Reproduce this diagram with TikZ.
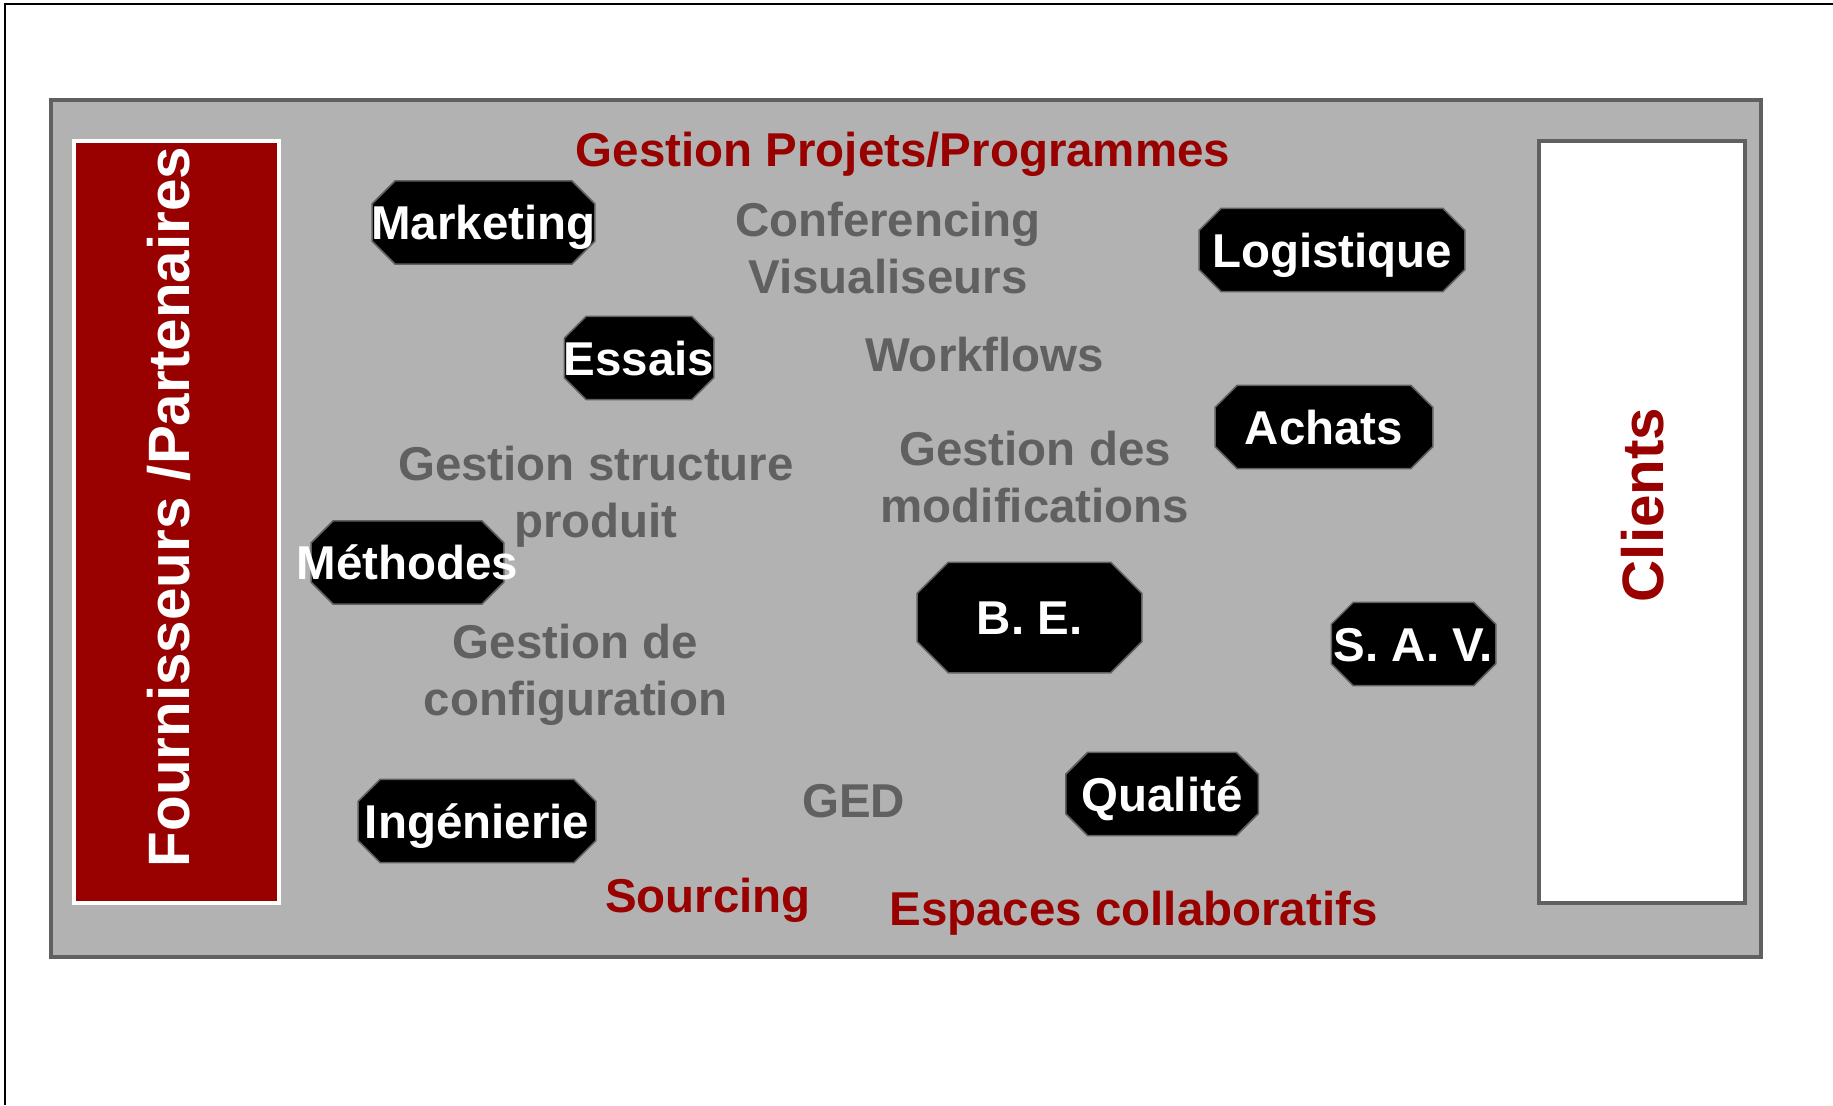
\documentclass[tikz,border=0pt]{standalone}
\usepackage{fontspec}
\setmainfont{Liberation Sans}
\usepackage{tikz}

\definecolor{pdmred}{HTML}{990000}
\definecolor{boxgray}{HTML}{B2B2B2}
\definecolor{edgegray}{HTML}{606060}
\definecolor{labelgray}{HTML}{606060}

\pgfdeclarelayer{background}
\pgfsetlayers{background,main}

\begin{document}
\begin{tikzpicture}[
  x = 0.01cm, y = -0.01cm,
  font = \bfseries\fontsize{13.5}{16.1}\selectfont,
  dept/.style = {rectangle, text=white, inner sep=0pt,
                 text height=9.7pt, text depth=0pt, minimum height=0.82cm},
  octa/.style = {draw=edgegray, line width=0.015cm, fill=black},
  tool/.style = {text=labelgray, align=center, anchor=base, inner sep=0pt},
  zone/.style = {text=pdmred, anchor=base, inner sep=0pt},
  side/.style = {rotate=90, anchor=base, inner sep=0pt,
                 font=\bfseries\fontsize{16.6}{20}\selectfont}
]
\useasboundingbox (0,0) rectangle (1833,1105);

% ───────── frame ─────────
\begin{pgfonlayer}{background}
\draw[line width=0.02cm] (5,1105) -- (5,4) -- (1833,4);
\draw[line width=0.04cm, draw=edgegray, fill=boxgray] (51.3,100.3) rectangle (1761,957);
\draw[line width=0.04cm, draw=white, fill=pdmred] (73.5,141) rectangle (279,903);
\draw[line width=0.04cm, draw=edgegray, fill=white] (1538.7,141.3) rectangle (1745.3,902.5);
\end{pgfonlayer}

% ───────── sides ─────────
\node[side, text=white]  (fourn)   at (189,507)  {Fournisseurs /Partenaires};
\node[side, text=pdmred] (clients) at (1663,505) {Clients};

% ───────── services ─────────
\node[dept, minimum width=2.21cm] (marketing)  at (483.5,222.5) {\makebox[0pt]{Marketing}};
\node[dept, minimum width=1.48cm] (essais)     at (639,358)     {\makebox[0pt]{Essais}};
\node[dept, minimum width=2.64cm] (logistique) at (1332,250)    {\makebox[0pt]{Logistique}};
\node[dept, minimum width=2.16cm] (achats)     at (1324,427)    {\makebox[0pt]{Achats}};
\node[dept, minimum width=1.91cm] (methodes)   at (407.5,562.5) {\makebox[0pt]{Méthodes}};
\node[dept, minimum width=2.23cm, minimum height=1.09cm]
                                  (be)         at (1029.5,617.5) {\makebox[0pt]{B. E.}};
\node[dept, minimum width=1.63cm] (sav)        at (1413.5,644)  {\makebox[0pt]{S. A. V.}};
\node[dept, minimum width=1.91cm] (qualite)    at (1162,794)    {\makebox[0pt]{Qualité}};
\node[dept, minimum width=2.36cm] (ingenierie) at (477,821)     {\makebox[0pt]{Ingénierie}};

% octagons behind the service names
\begin{pgfonlayer}{background}
\foreach \n/\c in {marketing/0.23cm, essais/0.22cm, logistique/0.22cm,
                   achats/0.22cm, methodes/0.22cm, be/0.31cm, sav/0.22cm,
                   qualite/0.22cm, ingenierie/0.22cm}
  \draw[octa] ([xshift=\c]\n.north west) -- ([xshift=-\c]\n.north east)
    -- ([yshift=-\c]\n.north east) -- ([yshift=\c]\n.south east)
    -- ([xshift=-\c]\n.south east) -- ([xshift=\c]\n.south west)
    -- ([yshift=\c]\n.south west) -- ([yshift=-\c]\n.north west) -- cycle;
\end{pgfonlayer}

% ───────── outils ─────────
\node[tool] (conf)   at (888,293)    {Conferencing\\Visualiseurs};
\node[tool] (wf)     at (984.6,371.7) {Workflows};
\node[tool] (gsp)    at (596,537)    {Gestion structure\\produit};
\node[tool] (gmod)   at (1035,522)   {Gestion des\\modifications};
\node[tool] (gconf)  at (575.5,715)  {Gestion de\\configuration};
\node[tool] (ged)    at (853.5,817)  {GED};

% ───────── transverse ─────────
\node[zone] (projets)   at (903,166.7)  {Gestion Projets/Programmes};
\node[zone] (sourcing)  at (708,912)    {Sourcing};
\node[zone] (espaces)   at (1133.5,925) {Espaces collaboratifs};
\end{tikzpicture}
\end{document}
